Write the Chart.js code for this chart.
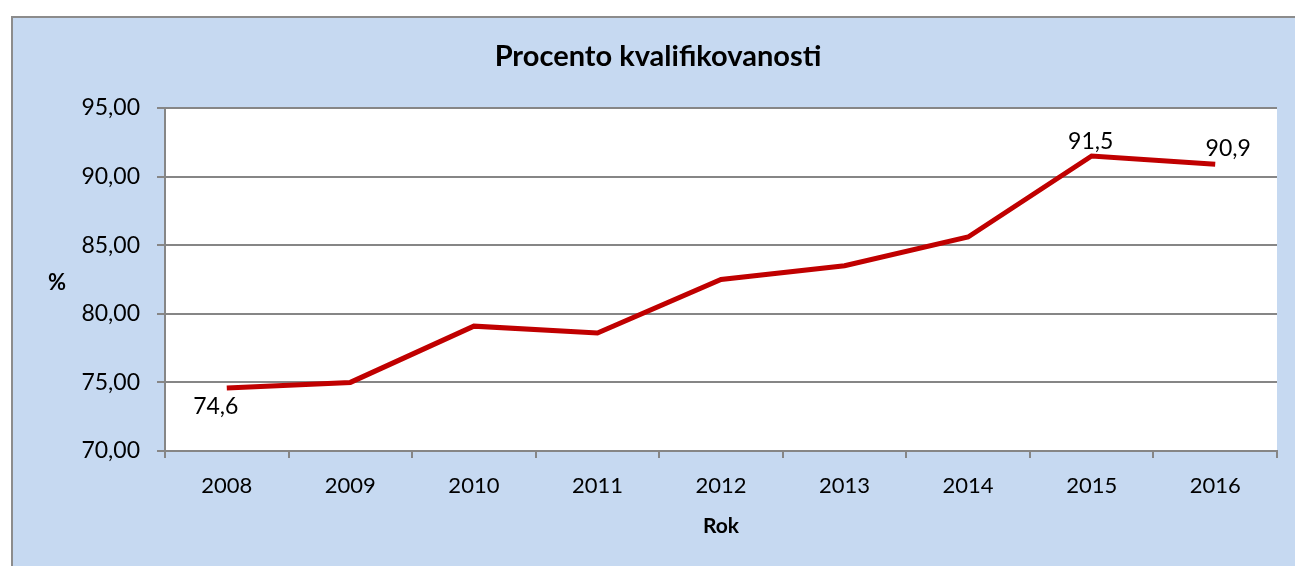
<!DOCTYPE html>
<html lang="cs">
<head>
    <meta charset="UTF-8">
    <title>Procento kvalifikovanosti</title>
    <style>
        html, body { margin: 0; padding: 0; background: #ffffff; }
        #wrap { position: absolute; left: 0; top: 0; width: 1295px; height: 566px; }
    </style>
</head>
<body>
    <div id="wrap"><canvas id="chart"></canvas></div>
    <script src="https://cdn.jsdelivr.net/npm/chart.js"></script>
    <script>
        // chart data
        var years = ['2008', '2009', '2010', '2011', '2012', '2013', '2014', '2015', '2016'];
        var percent = [74.6, 75.0, 79.1, 78.6, 82.5, 83.5, 85.6, 91.5, 90.9];
        var yTicks = [70, 75, 80, 85, 90, 95];
        var labelledPoints = { 0: 'below', 7: 'above', 8: 'aboveRight' };

        var FONT = 'Lato, "Open Sans", sans-serif';

        // blue frame + white plot area, title and the "%" label
        var framePlugin = {
            id: 'frame',
            beforeDraw: function (chart) {
                var ctx = chart.ctx, a = chart.chartArea;
                ctx.save();
                ctx.fillStyle = '#c6d9f1';
                ctx.fillRect(11, 16, chart.width - 11, chart.height - 16);
                ctx.strokeStyle = '#8c8c8c';
                ctx.lineWidth = 2;
                ctx.beginPath();
                ctx.moveTo(12, chart.height);
                ctx.lineTo(12, 17);
                ctx.lineTo(chart.width, 17);
                ctx.stroke();
                ctx.fillStyle = '#ffffff';
                ctx.fillRect(a.left, a.top, a.right - a.left, a.bottom - a.top);
                ctx.restore();
            },
            afterDraw: function (chart) {
                var ctx = chart.ctx;
                ctx.save();
                ctx.fillStyle = '#000000';
                ctx.textAlign = 'center';
                ctx.textBaseline = 'middle';
                ctx.font = 'bold 29px ' + FONT;
                ctx.fillText('Procento kvalifikovanosti', 658, 57);
                ctx.font = 'bold 22px ' + FONT;
                ctx.fillText('%', 57, 283);
                ctx.restore();
            }
        };

        // data labels on a few points
        var labelPlugin = {
            id: 'pointLabels',
            afterDatasetsDraw: function (chart) {
                var ctx = chart.ctx;
                var meta = chart.getDatasetMeta(0);
                ctx.save();
                ctx.fillStyle = '#000000';
                ctx.font = '23px ' + FONT;
                ctx.textAlign = 'center';
                ctx.textBaseline = 'middle';
                Object.keys(labelledPoints).forEach(function (i) {
                    var p = meta.data[i];
                    var txt = percent[i].toFixed(1).replace('.', ',');
                    var pos = labelledPoints[i];
                    if (pos === 'below') ctx.fillText(txt, p.x - 11, p.y + 19);
                    else if (pos === 'above') ctx.fillText(txt, p.x - 1, p.y - 14);
                    else ctx.fillText(txt, p.x + 13, p.y - 16);
                });
                ctx.restore();
            }
        };

        var ctx = document.getElementById('chart').getContext('2d');
        var myChart = new Chart(ctx, {
            type: 'line',
            data: {
                labels: years,
                datasets: [{
                    data: percent,
                    borderColor: '#c00000',
                    borderWidth: 5,
                    pointRadius: 0,
                    fill: false,
                    tension: 0
                }]
            },
            options: {
                responsive: true,
                maintainAspectRatio: false,
                animation: false,
                layout: { padding: { left: 0, right: 18, top: 108, bottom: 0 } },
                plugins: {
                    legend: { display: false },
                    tooltip: { enabled: false }
                },
                scales: {
                    x: {
                        offset: true,
                        grid: {
                            offset: true,
                            drawOnChartArea: false,
                            color: '#868686',
                            lineWidth: 2,
                            tickLength: 7
                        },
                        border: { color: '#868686', width: 2 },
                        ticks: {
                            color: '#000000',
                            font: { family: FONT, size: 22 },
                            padding: 15
                        },
                        title: {
                            display: true,
                            text: 'Rok',
                            color: '#000000',
                            font: { family: FONT, size: 21, weight: 'bold' },
                            padding: { top: 0, bottom: 27 }
                        },
                        afterFit: function (scale) { scale.height = 115; }
                    },
                    y: {
                        min: 70,
                        max: 95,
                        afterBuildTicks: function (scale) {
                            scale.ticks = yTicks.map(function (v) { return { value: v }; });
                        },
                        grid: {
                            color: '#868686',
                            lineWidth: 2,
                            tickLength: 8
                        },
                        border: { color: '#868686', width: 2 },
                        ticks: {
                            color: '#000000',
                            font: { family: FONT, size: 23 },
                            padding: 17,
                            callback: function (v) { return v.toFixed(2).replace('.', ','); }
                        },
                        afterFit: function (scale) { scale.width = 165; }
                    }
                }
            },
            plugins: [framePlugin, labelPlugin]
        });
    </script>
</body>
</html>
